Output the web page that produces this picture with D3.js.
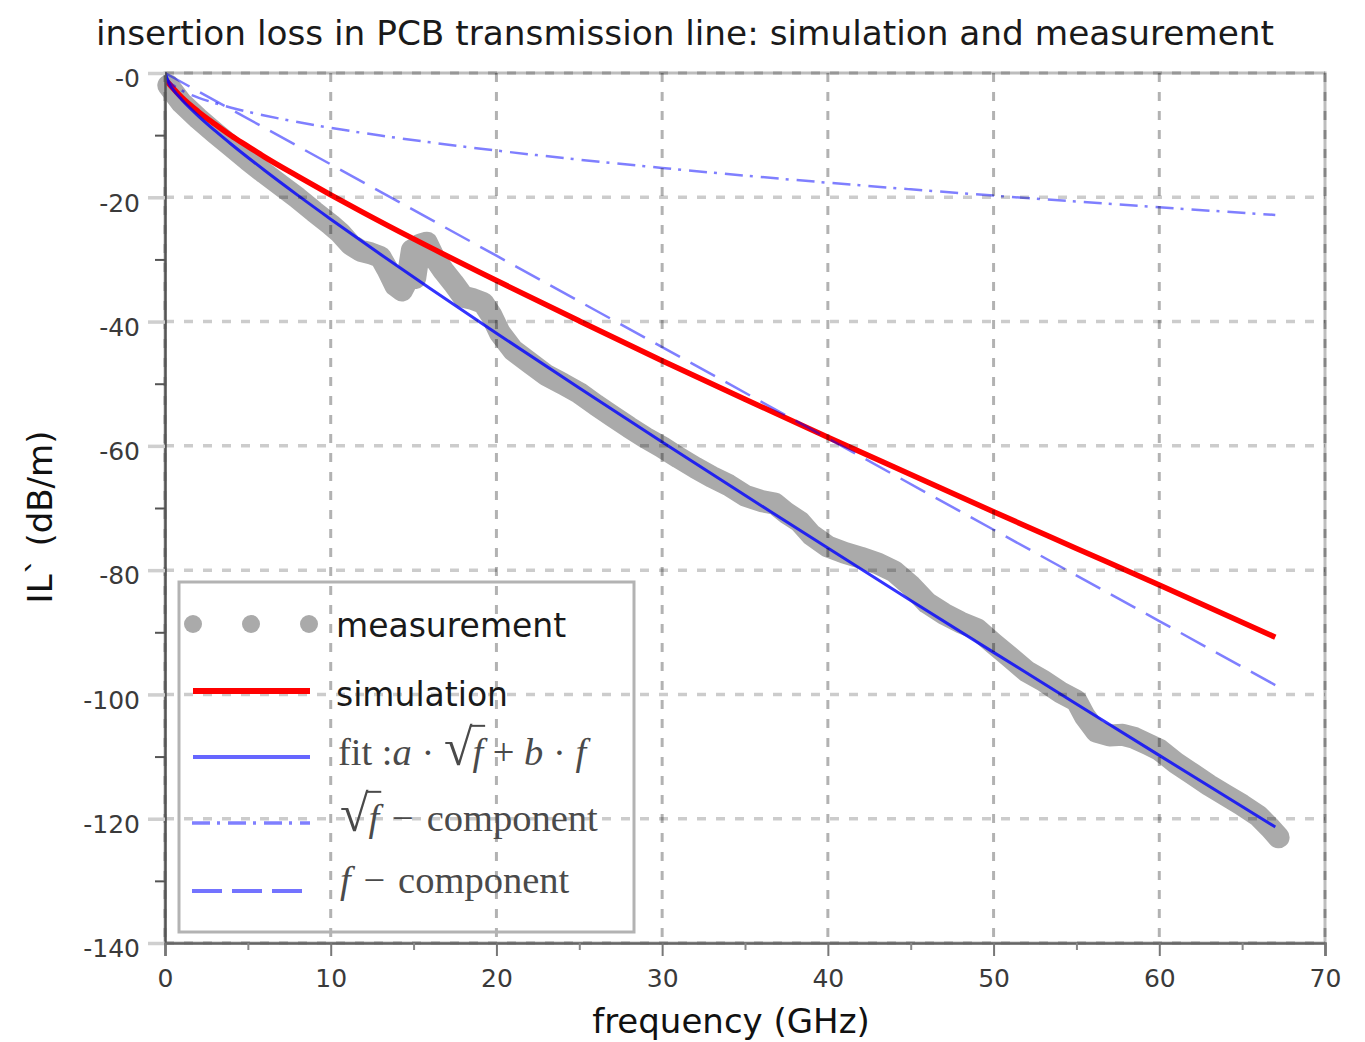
<!DOCTYPE html>
<html>
<head>
<meta charset="utf-8">
<script src="https://cdn.jsdelivr.net/npm/d3@7/dist/d3.min.js"></script>
<style>
  body { margin: 0; background: #fff; }
  svg text { font-family: "DejaVu Sans", sans-serif; }
</style>
</head>
<body>
<svg id="chart" width="1365" height="1042"></svg>
<script>
// measured insertion loss (dB/m) versus frequency (GHz)
const measFreq = [0.2,1,2,3,4,5,6,7,8,9,10,10.6,11.2,11.8,12.4,13.0,13.4,13.9,14.3,14.6,
  14.9,15.1,15.4,15.8,16.2,16.8,17.4,18.0,18.6,19.2,19.7,20.2,21,22,23,24,25,26,27,28,29,30,
  31,32,33,34,35,36,36.8,37.5,38.3,39,40,41,42,43,44,45,46,47,48,49,50,51,52,53,54,55,
  55.5,56.2,57,57.8,58.5,59.3,60,61,62,63,64,65,66,66.7,67.2];
const measIL = [-2.0,-4.8,-7.3,-9.6,-11.8,-14.0,-16.1,-18.1,-20.1,-22.3,-24.4,-25.8,-27.6,-28.6,-29.0,-29.6,-31.5,-34.2,-35.0,-33.5,
  -28.5,-33.0,-27.6,-27.3,-29.5,-31.8,-33.8,-36.0,-36.4,-37.0,-39.0,-41.8,-44.6,-46.6,-48.6,-50.0,-51.5,-53.4,-55.2,-57.0,-58.7,-60.2,
  -61.9,-63.5,-65.0,-66.3,-68.0,-68.9,-69.3,-70.8,-72.2,-74.3,-76.2,-77.2,-78.0,-78.9,-80.2,-82.5,-85.3,-87.0,-88.4,-89.5,-91.8,-94.0,-96.3,-97.8,-99.6,-101.0,
  -103.5,-106.0,-106.6,-106.5,-107.0,-108.0,-108.9,-111.0,-112.8,-114.6,-116.2,-117.8,-119.6,-121.5,-123.0];

// simulated insertion loss
const simFreq = [0.1,1,2,3,4,5,6,8,10,12,15,20,25,30,35,40,45,50,55,60,67];
const simIL = [-1.3,-3.9,-6.2,-8.2,-10.1,-11.8,-13.5,-16.6,-19.6,-22.5,-26.7,-33.4,-39.9,-46.3,-52.5,-58.6,-64.6,-70.6,-76.5,-82.4,-90.8];

// fit a*sqrt(f) + b*f and its sqrt(f) part
const compFreq = [0,0.25,0.5,1,2,3,4,6,8,10,13,16,20,25,30,35,40,45,50,55,60,67];
const fitIL = [0,-1.77,-2.71,-4.26,-6.89,-9.24,-11.46,-15.65,-19.65,-23.52,-29.17,-34.68,-41.88,-50.70,-59.38,-67.96,-76.45,-84.87,-93.23,-101.54,-109.81,-121.33];
const sqrtIL = [0,-1.40,-1.97,-2.79,-3.95,-4.83,-5.58,-6.83,-7.89,-8.82,-10.06,-11.16,-12.48,-13.95,-15.28,-16.51,-17.65,-18.72,-19.73,-20.69,-21.61,-22.84];

// linear (f) part of the fit
const linFreq = [0,10,20,30,40,50,60,67];
const linIL = [0,-14.7,-29.4,-44.1,-58.8,-73.5,-88.2,-98.5];

// axes
const xTicks = [0,10,20,30,40,50,60,70];
const xMinorTicks = [5,15,25,35,45,55,65];
const yTicks = [0,-20,-40,-60,-80,-100,-120,-140];
const yTickLabels = ["-0","-20","-40","-60","-80","-100","-120","-140"];
const yMinorTicks = [-10,-30,-50,-70,-90,-110,-130];

const titleText = "insertion loss in PCB transmission line: simulation and measurement";
const xLabel = "frequency (GHz)";
const yLabel = "IL` (dB/m)";

const svg = d3.select("#chart");
const x = d3.scaleLinear().domain([0, 70]).range([165, 1325]);
const y = d3.scaleLinear().domain([0, -140]).range([73, 943]);

const zip = (xs, ys) => xs.map((v, i) => [v, ys[i]]);
const line = d3.line().x(d => x(d[0])).y(d => y(d[1]));
const smooth = d3.line().x(d => x(d[0])).y(d => y(d[1])).curve(d3.curveMonotoneX);

// frame
svg.append("rect")
  .attr("x", x(0)).attr("y", y(0))
  .attr("width", x(70) - x(0)).attr("height", y(-140) - y(0))
  .attr("fill", "none").attr("stroke", "#bdbdbd").attr("stroke-width", 3);

// data
const plot = svg.append("g");
plot.append("path").datum(zip(measFreq, measIL))
  .attr("d", line).attr("fill", "none")
  .attr("stroke", "#aaaaaa").attr("stroke-width", 22)
  .attr("stroke-linejoin", "round").attr("stroke-linecap", "round");
plot.append("path").datum(zip(simFreq, simIL))
  .attr("d", smooth).attr("fill", "none")
  .attr("stroke", "#ff0000").attr("stroke-width", 5.5);
plot.append("path").datum(zip(compFreq, fitIL))
  .attr("d", smooth).attr("fill", "none")
  .attr("stroke", "#0000ff").attr("stroke-opacity", 0.8).attr("stroke-width", 3);
plot.append("path").datum(zip(compFreq, sqrtIL))
  .attr("d", smooth).attr("fill", "none")
  .attr("stroke", "#0000ff").attr("stroke-opacity", 0.5).attr("stroke-width", 2.5)
  .attr("stroke-dasharray", "18,7,3,8");
plot.append("path").datum(zip(linFreq, linIL))
  .attr("d", line).attr("fill", "none")
  .attr("stroke", "#0000ff").attr("stroke-opacity", 0.5).attr("stroke-width", 2.5)
  .attr("stroke-dasharray", "28,12");

// grid drawn over the data
const grid = svg.append("g");
grid.selectAll(".hg").data(yTicks).join("line")
  .attr("x1", x(0)).attr("x2", x(70))
  .attr("y1", d => y(d)).attr("y2", d => y(d))
  .attr("stroke", "#000").attr("stroke-opacity", 0.2)
  .attr("stroke-width", 3.5).attr("stroke-dasharray", "9,10");
grid.selectAll(".vg").data(xTicks).join("line")
  .attr("x1", d => x(d)).attr("x2", d => x(d))
  .attr("y1", y(0)).attr("y2", y(-140))
  .attr("stroke", "#000").attr("stroke-opacity", 0.3)
  .attr("stroke-width", 3).attr("stroke-dasharray", "9,10");

// left axis
const yAxis = svg.append("g").attr("transform", `translate(${x(0)},0)`)
  .call(d3.axisLeft(y).tickValues(yTicks).tickFormat((d, i) => yTickLabels[i])
    .tickSize(17).tickPadding(8));
yAxis.select(".domain").attr("stroke", "#555").attr("stroke-width", 2.5);
yAxis.selectAll(".tick line").attr("stroke", "#cfcfcf").attr("stroke-width", 3.5);
yAxis.selectAll(".tick text").attr("font-size", 25).attr("fill", "#3a3a3a")
  .attr("font-family", "DejaVu Sans").attr("dy", "0.55em");
const yMinor = svg.append("g").attr("transform", `translate(${x(0)},0)`)
  .call(d3.axisLeft(y).tickValues(yMinorTicks).tickFormat("").tickSize(10));
yMinor.select(".domain").remove();
yMinor.selectAll(".tick line").attr("stroke", "#555").attr("stroke-width", 2);

// bottom axis
const xAxis = svg.append("g").attr("transform", `translate(0,${y(-140)})`)
  .call(d3.axisBottom(x).tickValues(xTicks).tickFormat(d3.format("d"))
    .tickSize(13).tickPadding(13));
xAxis.select(".domain").attr("stroke", "#666").attr("stroke-width", 2.5);
xAxis.selectAll(".tick line").attr("stroke", "#777").attr("stroke-width", 2);
xAxis.selectAll(".tick text").attr("font-size", 25).attr("fill", "#3a3a3a")
  .attr("font-family", "DejaVu Sans");
const xMinor = svg.append("g").attr("transform", `translate(0,${y(-140)})`)
  .call(d3.axisBottom(x).tickValues(xMinorTicks).tickFormat("").tickSize(7));
xMinor.select(".domain").remove();
xMinor.selectAll(".tick line").attr("stroke", "#888").attr("stroke-width", 2);

// titles
svg.append("text").attr("x", 685).attr("y", 45)
  .attr("text-anchor", "middle").attr("font-size", 34.3).attr("fill", "#1a1a1a")
  .text(titleText);
svg.append("text").attr("x", 731).attr("y", 1033)
  .attr("text-anchor", "middle").attr("font-size", 34).attr("fill", "#111")
  .text(xLabel);
svg.append("text").attr("transform", "translate(52,517) rotate(-90)")
  .attr("text-anchor", "middle").attr("font-size", 34).attr("fill", "#111")
  .text(yLabel);

// legend
const leg = svg.append("g");
leg.append("rect").attr("x", 179).attr("y", 582).attr("width", 455).attr("height", 350)
  .attr("fill", "none").attr("stroke", "#b3b3b3").attr("stroke-width", 3);

const legendMarkX = [193, 251, 309];
leg.selectAll("circle").data(legendMarkX).join("circle")
  .attr("cx", d => d).attr("cy", 624).attr("r", 9).attr("fill", "#aaaaaa");
leg.append("line").attr("x1", 193).attr("x2", 310).attr("y1", 691).attr("y2", 691)
  .attr("stroke", "#ff0000").attr("stroke-width", 6);
leg.append("line").attr("x1", 193).attr("x2", 310).attr("y1", 757).attr("y2", 757)
  .attr("stroke", "#0000ff").attr("stroke-opacity", 0.6).attr("stroke-width", 4);
leg.append("line").attr("x1", 192).attr("x2", 310).attr("y1", 823).attr("y2", 823)
  .attr("stroke", "#0000ff").attr("stroke-opacity", 0.5).attr("stroke-width", 3.5)
  .attr("stroke-dasharray", "18,7,3,8");
leg.append("line").attr("x1", 192).attr("x2", 303).attr("y1", 891).attr("y2", 891)
  .attr("stroke", "#0000ff").attr("stroke-opacity", 0.55).attr("stroke-width", 4)
  .attr("stroke-dasharray", "30,10");

leg.append("text").attr("x", 336).attr("y", 637).attr("font-size", 33).attr("fill", "#1a1a1a")
  .text("measurement");
leg.append("text").attr("x", 336).attr("y", 706).attr("font-size", 33).attr("fill", "#1a1a1a")
  .text("simulation");

// math legend entries in a serif face; the radical gets a vinculum over its argument
function mathText(px, py, parts) {
  const t = leg.append("text").attr("x", px).attr("y", py)
    .attr("font-size", 38.5).attr("fill", "#4a4a4a")
    .style("font-family", "'Liberation Serif', serif");
  const spans = parts.map(([s, style]) => {
    const ts = t.append("tspan").text(s);
    if (style === "i" || style === "arg") ts.attr("font-style", "italic");
    if (style === "rad") ts.attr("font-size", 52);
    return [ts, style];
  });
  spans.forEach(([ts, style], i) => {
    if (style !== "arg") return;
    const rad = spans[i - 1][0].node();
    const r = rad.getExtentOfChar(rad.getNumberOfChars() - 1);
    const a = ts.node();
    const e = a.getExtentOfChar(a.getNumberOfChars() - 1);
    const top = r.y + r.height * 0.12;
    leg.append("line")
      .attr("x1", r.x + r.width - 2).attr("x2", e.x + e.width + 2)
      .attr("y1", top).attr("y2", top)
      .attr("stroke", "#4a4a4a").attr("stroke-width", 2);
  });
  return t;
}
const minus = "\u200a \u2212 \u200a";   // minus with a little extra room on both sides
mathText(338, 765, [["fit :", ""], ["a", "i"], [" · ", ""], ["√", "rad"], ["f", "arg"], [" + ", ""], ["b", "i"], [" · ", ""], ["f", "i"]]);
mathText(340, 831, [["√", "rad"], ["f", "arg"], [minus + "component", ""]]);
mathText(340, 893, [["f", "i"], [minus + "component", ""]]);
</script>
</body>
</html>
